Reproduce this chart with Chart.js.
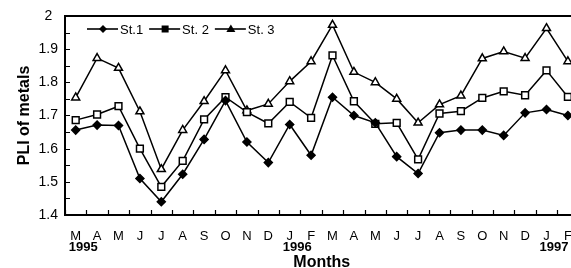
<!DOCTYPE html>
<html lang="en">
<head>
<meta charset="UTF-8">
<title>PLI of metals</title>
<script src="https://cdn.jsdelivr.net/npm/chart.js"></script>
<style>
  html, body { margin: 0; padding: 0; background: #fff; overflow: hidden; }
  #wrap { width: 571px; height: 268px; overflow: hidden; }
</style>
</head>
<body>
<div id="wrap"><canvas id="pli" width="586" height="268"></canvas></div>
<script>
// months from March 1995 to February 1997
const months = ['M','A','M','J','J','A','S','O','N','D','J','F','M','A','M','J','J','A','S','O','N','D','J','F'];
const yearIndex = [0, 10, 22];
const yearLabels = ['1995', '1996', '1997'];

const st1 = [1.656, 1.671, 1.670, 1.510, 1.440, 1.523, 1.628, 1.745, 1.620, 1.558, 1.673, 1.580,
             1.755, 1.700, 1.678, 1.576, 1.525, 1.648, 1.656, 1.656, 1.640, 1.708, 1.718, 1.700];
const st2 = [1.686, 1.703, 1.728, 1.600, 1.485, 1.563, 1.688, 1.755, 1.710, 1.676, 1.741, 1.693,
             1.881, 1.743, 1.675, 1.678, 1.568, 1.706, 1.713, 1.753, 1.773, 1.761, 1.836, 1.756];
const st3 = [1.754, 1.873, 1.843, 1.712, 1.538, 1.656, 1.743, 1.836, 1.715, 1.735, 1.803, 1.863,
             1.973, 1.831, 1.800, 1.750, 1.678, 1.733, 1.760, 1.872, 1.893, 1.873, 1.963, 1.863];

const yMin = 1.4, yMax = 2.0;
const FONT = '"Liberation Sans", Arial, sans-serif';

Chart.defaults.font.family = FONT;
Chart.defaults.color = '#000';

function marker(ctx, style, x, y) {
  ctx.beginPath();
  if (style === 'rectRot') {
    ctx.moveTo(x, y - 4); ctx.lineTo(x + 4, y); ctx.lineTo(x, y + 4); ctx.lineTo(x - 4, y);
  } else if (style === 'rect') {
    ctx.rect(x - 3.5, y - 3.5, 7, 7);
  } else {
    ctx.moveTo(x, y - 4.5); ctx.lineTo(x + 4.5, y + 3); ctx.lineTo(x - 4.5, y + 3);
  }
  ctx.closePath();
  ctx.fill();
}

// frame top line, inward tick marks, year labels, legend inside the plot
const extras = {
  id: 'extras',
  afterDraw(chart) {
    const ctx = chart.ctx;
    const a = chart.chartArea;
    const xs = chart.scales.x, ys = chart.scales.y;
    ctx.save();
    ctx.strokeStyle = '#000';
    ctx.fillStyle = '#000';

    ctx.lineWidth = 2;
    ctx.beginPath();
    ctx.moveTo(a.left, a.top);
    ctx.lineTo(a.right, a.top);
    ctx.stroke();

    ctx.lineWidth = 1.2;
    ctx.beginPath();
    for (let v = yMin; v <= yMax + 1e-6; v += 0.05) {
      const py = Math.round(ys.getPixelForValue(v)) + 0.5;
      ctx.moveTo(a.left, py);
      ctx.lineTo(a.left + 5, py);
    }
    const step = xs.getPixelForValue(1) - xs.getPixelForValue(0);
    for (let i = 0; i <= months.length; i++) {
      const px = Math.round(xs.getPixelForValue(i) - step / 2) + 0.5;
      ctx.moveTo(px, a.bottom);
      ctx.lineTo(px, a.bottom - 5);
    }
    ctx.stroke();

    ctx.font = 'bold 13px ' + FONT;
    ctx.textAlign = 'left';
    ctx.textBaseline = 'middle';
    yearIndex.forEach((idx, k) => {
      ctx.fillText(yearLabels[k], xs.getPixelForValue(idx) - 7, a.bottom + 32);
    });

    ctx.font = '13px ' + FONT;
    ctx.lineWidth = 1.6;
    let lx = a.left + 22;
    const ly = a.top + 13;
    chart.data.datasets.forEach(ds => {
      ctx.beginPath();
      ctx.moveTo(lx, ly);
      ctx.lineTo(lx + 31, ly);
      ctx.stroke();
      marker(ctx, ds.pointStyle, lx + 16, ly);
      ctx.fillText(ds.label, lx + 33, ly + 1);
      lx += 33 + ctx.measureText(ds.label).width + 6;
    });
    ctx.restore();
  }
};

function series(label, data, style, fill, radius) {
  return {
    label: label,
    data: data,
    borderColor: '#000',
    borderWidth: 1.5,
    pointStyle: style,
    pointRadius: radius,
    pointBackgroundColor: fill,
    pointBorderColor: '#000',
    pointBorderWidth: 1.5,
    tension: 0
  };
}

new Chart(document.getElementById('pli'), {
  type: 'line',
  data: {
    labels: months,
    datasets: [
      series('St.1', st1, 'rectRot', '#000', 4),
      series('St. 2', st2, 'rect', '#fff', 4.8),
      series('St. 3', st3, 'triangle', '#fff', 4.6)
    ]
  },
  options: {
    responsive: false,
    animation: false,
    layout: { padding: { top: 16, right: 4, bottom: 0, left: 0 } },
    plugins: { legend: { display: false }, tooltip: { enabled: false } },
    scales: {
      x: {
        offset: true,
        grid: { display: false, drawTicks: false },
        border: { display: true, color: '#000', width: 2 },
        ticks: { font: { size: 13 }, padding: 14, maxRotation: 0, autoSkip: false },
        title: { display: true, text: 'Months', font: { size: 16, weight: 'bold', lineHeight: 1 }, padding: { top: 0, bottom: -3 } },
        afterFit: s => { s.height = 53; }
      },
      y: {
        min: yMin,
        max: yMax,
        grid: { display: false, drawTicks: false },
        border: { display: true, color: '#000', width: 2 },
        ticks: {
          stepSize: 0.1,
          font: { size: 14 },
          padding: 7,
          crossAlign: 'center',
          callback: v => String(+v.toFixed(1))
        },
        title: { display: true, text: 'PLI of metals', font: { size: 16, weight: 'bold', lineHeight: 1.2 }, padding: { top: 15, bottom: 0 } },
        afterFit: s => { s.width = 65; }
      }
    }
  },
  plugins: [extras]
});
</script>
</body>
</html>
